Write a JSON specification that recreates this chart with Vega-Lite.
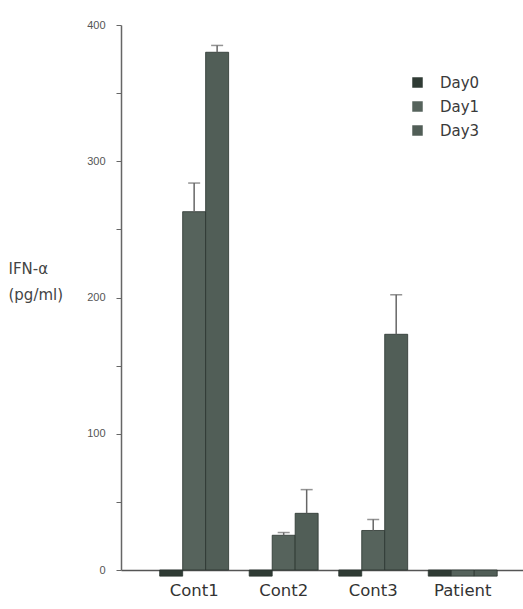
{
  "$schema": "https://vega.github.io/schema/vega-lite/v6.json",
  "width": 402,
  "height": 545,
  "autosize": {"type": "none"},
  "padding": {"left": 121, "top": 25, "right": 0, "bottom": 39},
  "background": "white",
  "config": {"view": {"stroke": null}},
  "data": {
    "values": [
      {"group": "Cont1", "day": "Day0", "value": -4.5, "upper": null},
      {"group": "Cont1", "day": "Day1", "value": 263, "upper": 284},
      {"group": "Cont1", "day": "Day3", "value": 380, "upper": 385},
      {"group": "Cont2", "day": "Day0", "value": -4.5, "upper": null},
      {"group": "Cont2", "day": "Day1", "value": 25.5, "upper": 27.5},
      {"group": "Cont2", "day": "Day3", "value": 41.6, "upper": 59},
      {"group": "Cont3", "day": "Day0", "value": -4.5, "upper": null},
      {"group": "Cont3", "day": "Day1", "value": 29, "upper": 37},
      {"group": "Cont3", "day": "Day3", "value": 173, "upper": 202},
      {"group": "Patient", "day": "Day0", "value": -4.5, "upper": null},
      {"group": "Patient", "day": "Day1", "value": -4.5, "upper": null},
      {"group": "Patient", "day": "Day3", "value": -4.5, "upper": null}
    ]
  },
  "encoding": {
    "x": {
      "field": "group",
      "type": "nominal",
      "sort": ["Cont1", "Cont2", "Cont3", "Patient"],
      "scale": {"paddingInner": 0.23, "paddingOuter": 0.36, "align": 0.6},
      "axis": {
        "title": null,
        "labelAngle": 0,
        "ticks": false,
        "labelFont": "DejaVu Sans",
        "labelFontSize": 16.5,
        "labelColor": "#333",
        "labelPadding": 12,
        "domainColor": "#555",
        "domainWidth": 1.5
      }
    },
    "xOffset": {
      "field": "day",
      "type": "nominal",
      "sort": ["Day0", "Day1", "Day3"],
      "scale": {"paddingInner": 0, "paddingOuter": 0}
    }
  },
  "layer": [
    {
      "mark": {"type": "bar", "stroke": "#2a332e", "strokeWidth": 0.8},
      "encoding": {
        "y": {
          "field": "value",
          "type": "quantitative",
          "scale": {"domain": [0, 400], "nice": false},
          "axis": {
            "values": [0, 50, 100, 150, 200, 250, 300, 350, 400],
            "labelExpr": "datum.value % 100 === 0 ? datum.label : ''",
            "grid": false,
            "tickSize": 5,
            "tickColor": "#666",
            "domainColor": "#666",
            "domainWidth": 1.5,
            "labelFont": "Liberation Sans",
            "labelFontSize": 11,
            "labelColor": "#555",
            "labelPadding": 11,
            "title": ["IFN-α", "(pg/ml)"],
            "titleAngle": 0,
            "titleAlign": "left",
            "titleBaseline": "alphabetic",
            "titleX": -113,
            "titleY": 248,
            "titleFont": "DejaVu Sans",
            "titleFontSize": 15,
            "titleFontWeight": "normal",
            "titleColor": "#444",
            "titleLineHeight": 26
          }
        },
        "color": {
          "field": "day",
          "type": "nominal",
          "scale": {"domain": ["Day0", "Day1", "Day3"], "range": ["#2f3b34", "#56635c", "#515e57"]},
          "legend": {
            "title": null,
            "orient": "none",
            "legendX": 289,
            "legendY": 50,
            "symbolType": "square",
            "symbolSize": 110,
            "symbolStrokeWidth": 0,
            "labelFont": "DejaVu Sans",
            "labelFontSize": 15,
            "labelColor": "#3a3a3a",
            "labelOffset": 15,
            "rowPadding": 8
          }
        }
      }
    },
    {
      "transform": [{"filter": "datum.upper != null"}],
      "mark": {"type": "rule", "color": "#666", "strokeWidth": 1.5},
      "encoding": {
        "y": {"field": "value", "type": "quantitative"},
        "y2": {"field": "upper"}
      }
    },
    {
      "transform": [{"filter": "datum.upper != null"}],
      "mark": {"type": "tick", "color": "#666", "thickness": 1.5, "size": 12, "orient": "horizontal"},
      "encoding": {
        "y": {"field": "upper", "type": "quantitative"}
      }
    }
  ]
}
